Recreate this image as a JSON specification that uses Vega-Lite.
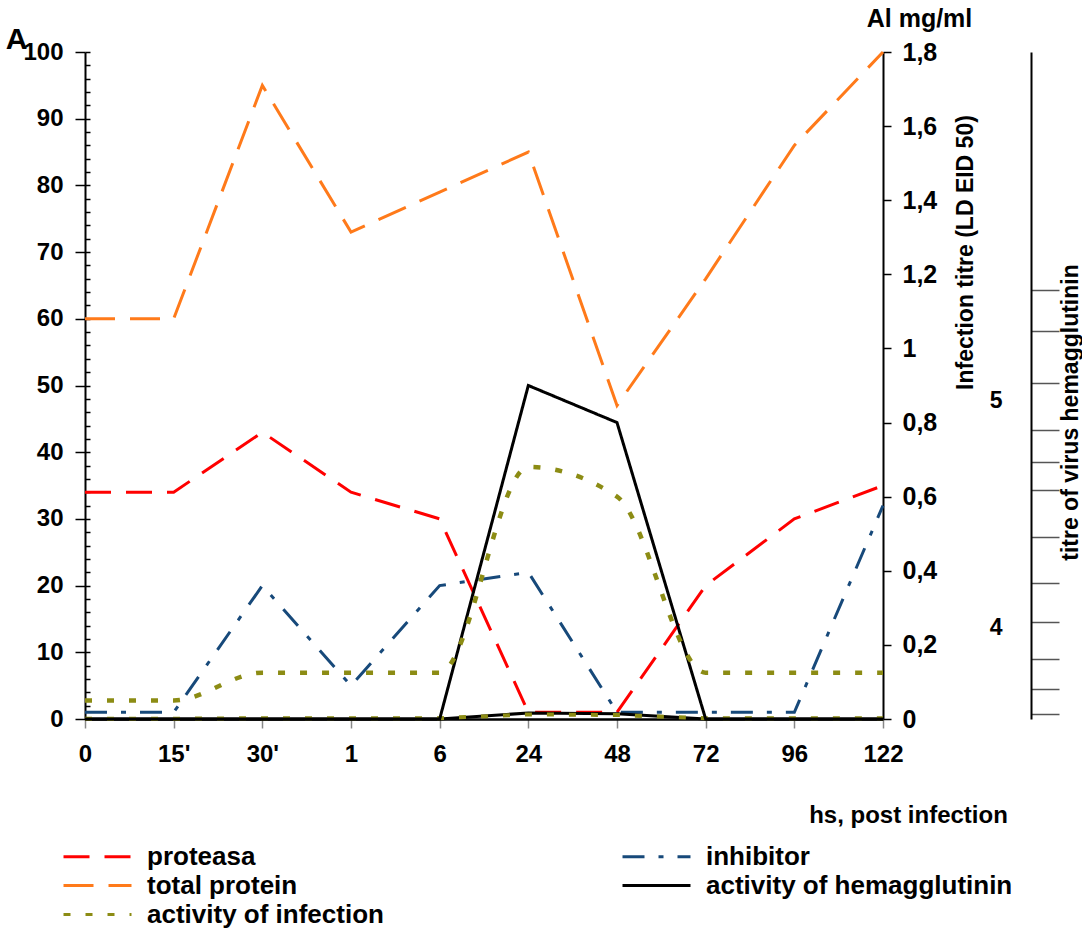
{
  "$schema": "https://vega.github.io/schema/vega-lite/v6.json",
  "width": 798,
  "height": 667,
  "autosize": {"type": "none"},
  "padding": {"left": 85, "top": 52, "right": 199, "bottom": 211},
  "background": "white",
  "config": {
    "view": {"stroke": null},
    "axis": {
      "grid": false,
      "labelFont": "Liberation Sans",
      "labelFontWeight": "bold",
      "labelFontSize": 24,
      "labelColor": "#000000",
      "titleFont": "Liberation Sans",
      "titleFontWeight": "bold",
      "titleColor": "#000000",
      "domainColor": "#000000",
      "domainWidth": 2,
      "tickColor": "#000000",
      "tickWidth": 1.5
    },
    "legend": {
      "labelFont": "Liberation Sans",
      "labelFontWeight": "bold",
      "labelFontSize": 26,
      "labelColor": "#000000",
      "labelLimit": 400
    }
  },
  "datasets": {
    "main": [
      {"x": "0", "s": "proteasa", "v": 34}, {"x": "15'", "s": "proteasa", "v": 34}, {"x": "30'", "s": "proteasa", "v": 43}, {"x": "1", "s": "proteasa", "v": 34}, {"x": "6", "s": "proteasa", "v": 30}, {"x": "24", "s": "proteasa", "v": 1}, {"x": "48", "s": "proteasa", "v": 1}, {"x": "72", "s": "proteasa", "v": 20}, {"x": "96", "s": "proteasa", "v": 30}, {"x": "122", "s": "proteasa", "v": 35},
      {"x": "0", "s": "total protein", "v": 60}, {"x": "15'", "s": "total protein", "v": 60}, {"x": "30'", "s": "total protein", "v": 95}, {"x": "1", "s": "total protein", "v": 73}, {"x": "6", "s": "total protein", "v": 79}, {"x": "24", "s": "total protein", "v": 85}, {"x": "48", "s": "total protein", "v": 47}, {"x": "72", "s": "total protein", "v": 66}, {"x": "96", "s": "total protein", "v": 86}, {"x": "122", "s": "total protein", "v": 100},
      {"x": "0", "s": "inhibitor", "v": 1}, {"x": "15'", "s": "inhibitor", "v": 1}, {"x": "30'", "s": "inhibitor", "v": 20}, {"x": "1", "s": "inhibitor", "v": 5}, {"x": "6", "s": "inhibitor", "v": 20}, {"x": "24", "s": "inhibitor", "v": 22}, {"x": "48", "s": "inhibitor", "v": 1}, {"x": "72", "s": "inhibitor", "v": 1}, {"x": "96", "s": "inhibitor", "v": 1}, {"x": "122", "s": "inhibitor", "v": 32},
      {"x": "0", "s": "activity of hemagglutinin", "v": 0}, {"x": "15'", "s": "activity of hemagglutinin", "v": 0}, {"x": "30'", "s": "activity of hemagglutinin", "v": 0}, {"x": "1", "s": "activity of hemagglutinin", "v": 0}, {"x": "6", "s": "activity of hemagglutinin", "v": 0}, {"x": "24", "s": "activity of hemagglutinin", "v": 0.9}, {"x": "48", "s": "activity of hemagglutinin", "v": 0.8}, {"x": "72", "s": "activity of hemagglutinin", "v": 0}, {"x": "96", "s": "activity of hemagglutinin", "v": 0}, {"x": "122", "s": "activity of hemagglutinin", "v": 0},
      {"x": "0", "s": "activity of infection", "v": 0.05}, {"x": "15'", "s": "activity of infection", "v": 0.05}, {"x": "30'", "s": "activity of infection", "v": 0.125}, {"x": "1", "s": "activity of infection", "v": 0.125}, {"x": "6", "s": "activity of infection", "v": 0.125}, {"x": "24", "s": "activity of infection", "v": 0.68}, {"x": "48", "s": "activity of infection", "v": 0.6}, {"x": "72", "s": "activity of infection", "v": 0.125}, {"x": "96", "s": "activity of infection", "v": 0.125}, {"x": "122", "s": "activity of infection", "v": 0.125}
    ],
    "third": [{"x": "0", "t": 4}, {"x": "0", "t": 5}]
  },
  "data": {"name": "main"},
  "encoding": {
    "x": {
      "field": "x",
      "type": "ordinal",
      "scale": {"type": "point", "domain": ["0", "15'", "30'", "1", "6", "24", "48", "72", "96", "122"], "padding": 0},
      "axis": {
        "orient": "bottom",
        "labelAngle": 0,
        "tickSize": 9,
        "tickColor": "#888888",
        "labelPadding": 14,
        "domainWidth": 2.5,
        "title": "hs, post infection",
        "titleFontSize": 24,
        "titleX": 823,
        "titleY": 96,
        "titleAlign": "center",
        "titleBaseline": "middle"
      }
    }
  },
  "layer": [
    {
      "encoding": {
        "y": {
          "field": "v", "type": "quantitative",
          "scale": {"domain": [0, 100], "nice": false, "zero": false},
          "axis": {
            "orient": "left",
            "values": [0, 10, 20, 30, 40, 50, 60, 70, 80, 90, 100],
            "tickSize": 10,
            "labelPadding": 12,
            "title": "A",
            "titleAngle": 0,
            "titleFontSize": 30,
            "titleX": -69,
            "titleY": -13,
            "titleAlign": "center",
            "titleBaseline": "middle"
          }
        }
      },
      "layer": [
        {
          "transform": [{"filter": "datum.s === 'total protein' || datum.s === 'proteasa' || datum.s === 'inhibitor'"}],
          "mark": {"type": "line", "strokeWidth": 3},
          "encoding": {
            "color": {
              "field": "s", "type": "nominal",
              "scale": {"domain": ["proteasa", "total protein", "activity of infection", "inhibitor", "activity of hemagglutinin"], "range": ["#ff0000", "#ff7a1a", "#8c8c14", "#17497a", "#000000"]},
              "legend": {"title": null, "orient": "none", "legendX": -2, "legendY": 790, "columns": 2, "columnPadding": 232, "rowPadding": 1, "symbolType": "M-2.615,0H2.615", "symbolSize": 676, "symbolStrokeWidth": 3, "labelOffset": 35}
            },
            "strokeDash": {
              "field": "s", "type": "nominal",
              "scale": {"domain": ["proteasa", "total protein", "activity of infection", "inhibitor", "activity of hemagglutinin"], "range": [[26, 15], [30, 15], [7, 15], [22, 14, 5, 14], [1, 0]]},
              "legend": {"title": null, "orient": "none", "legendX": -2, "legendY": 790, "columns": 2, "columnPadding": 232, "rowPadding": 1, "symbolType": "M-2.615,0H2.615", "symbolSize": 676, "symbolStrokeWidth": 3, "labelOffset": 35}
            }
          }
        }
      ]
    },
    {
      "encoding": {
        "y": {
          "field": "v", "type": "quantitative",
          "scale": {"domain": [0, 100], "nice": false, "zero": false},
          "axis": {
            "orient": "left",
            "values": [0, 2, 4, 6, 8, 10, 12, 14, 16, 18, 20, 22, 24, 26, 28, 30, 32, 34, 36, 38, 40, 42, 44, 46, 48, 50, 52, 54, 56, 58, 60, 62, 64, 66, 68, 70, 72, 74, 76, 78, 80, 82, 84, 86, 88, 90, 92, 94, 96, 98, 100],
            "tickSize": -5,
            "labels": false,
            "domain": false,
            "title": null
          }
        }
      },
      "layer": [
        {
          "transform": [{"filter": "datum.s === 'activity of hemagglutinin'"}],
          "mark": {"type": "line", "strokeWidth": 3, "color": "#000000"}
        },
        {
          "transform": [{"filter": "datum.s === 'activity of infection'"}],
          "mark": {"type": "line", "strokeWidth": 4, "color": "#8c8c14", "strokeDash": [7, 15]}
        }
      ]
    },
    {
      "encoding": {
        "y": {
          "field": "v", "type": "quantitative",
          "scale": {"domain": [0, 1.8], "nice": false, "zero": false},
          "axis": {
            "orient": "right",
            "values": [0, 0.2, 0.4, 0.6, 0.8, 1, 1.2, 1.4, 1.6, 1.8],
            "labelExpr": "replace(format(datum.value, '.1~f'), '.', ',')",
            "tickSize": 8,
            "labelPadding": 11,
            "labelFontSize": 25,
            "title": "Infection titre (LD EID 50)",
            "titleAngle": 270,
            "titleFontSize": 23,
            "titleX": 82,
            "titleY": 200,
            "titleAlign": "center",
            "titleBaseline": "middle"
          }
        }
      },
      "layer": [
        {
          "transform": [{"filter": "datum.s === 'activity of hemagglutinin'"}],
          "mark": {"type": "line", "strokeWidth": 3},
          "encoding": {
            "color": {"field": "s", "type": "nominal"},
            "strokeDash": {"field": "s", "type": "nominal"}
          }
        },
        {
          "transform": [{"filter": "datum.s === 'activity of infection'"}],
          "mark": {"type": "line", "strokeWidth": 4.5, "interpolate": "monotone"},
          "encoding": {
            "color": {"field": "s", "type": "nominal"},
            "strokeDash": {"field": "s", "type": "nominal"}
          }
        }
      ]
    },
    {
      "data": {"name": "third"},
      "mark": {"type": "point", "opacity": 0},
      "encoding": {
        "y": {
          "field": "t", "type": "quantitative",
          "scale": {"domain": [3.595, 6.533], "nice": false, "zero": false},
          "axis": {
            "orient": "right",
            "offset": 148,
            "values": [3.617, 3.727, 3.859, 4.022, 4.194, 4.396, 4.604, 4.727, 4.868, 5.075, 5.304, 5.485],
            "tickSize": 28,
            "tickColor": "#555555",
            "tickWidth": 1.5,
            "labels": false,
            "title": "titre of virus hemagglutinin",
            "titleAngle": 270,
            "titleFontSize": 23,
            "titleX": 39,
            "titleY": 360,
            "titleAlign": "center",
            "titleBaseline": "middle"
          }
        }
      }
    },
    {
      "data": {"name": "third"},
      "mark": {"type": "point", "opacity": 0},
      "encoding": {
        "y": {
          "field": "t", "type": "quantitative",
          "scale": {"domain": [3.595, 6.533], "nice": false, "zero": false},
          "axis": {
            "orient": "right",
            "offset": 148,
            "values": [4, 5],
            "ticks": false,
            "tickSize": 0,
            "domain": false,
            "labelAlign": "right",
            "labelPadding": -29,
            "labelFontSize": 23,
            "title": "Al mg/ml",
            "titleAngle": 0,
            "titleFontSize": 25,
            "titleX": -112,
            "titleY": -34,
            "titleAlign": "center",
            "titleBaseline": "middle"
          }
        }
      }
    }
  ],
  "resolve": {"scale": {"y": "independent"}}
}
